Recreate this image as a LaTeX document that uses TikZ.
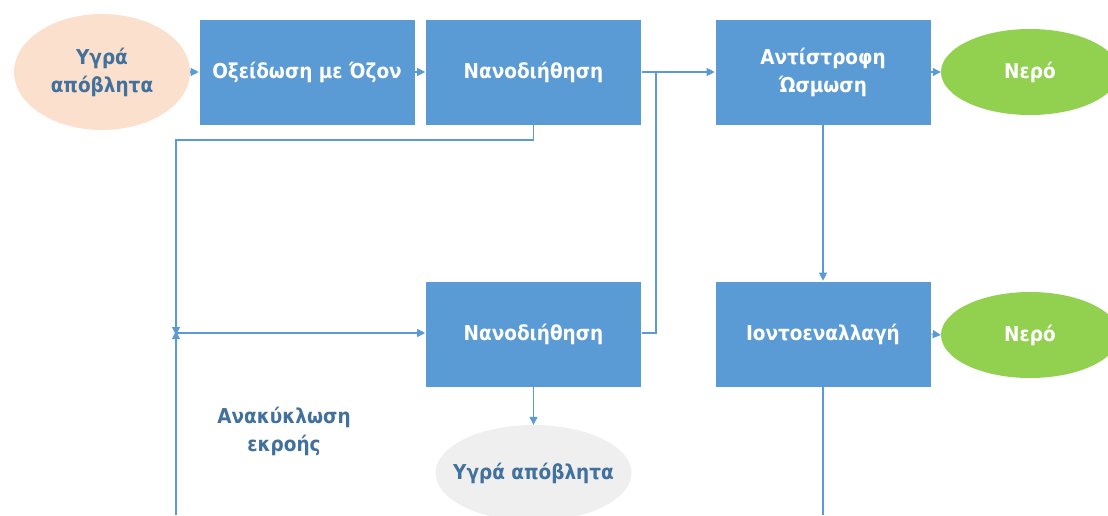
\documentclass[tikz,border=0pt]{standalone}
\usepackage{fontspec}
\setmainfont{DejaVu Sans Condensed}
\usetikzlibrary{shapes.geometric,arrows.meta}
\definecolor{boxblue}{HTML}{5B9BD5}
\definecolor{txtblue}{HTML}{41719C}
\definecolor{peach}{HTML}{FBE0CD}
\definecolor{leaf}{HTML}{92D050}
\definecolor{pale}{HTML}{EFEFEF}
\tikzset{
  bigtext/.style={font=\bfseries\fontsize{20.5}{28}\selectfont},
  procbox/.style={fill=boxblue, draw=white, line width=0.6pt, minimum width=216pt, minimum height=106pt, inner sep=0pt, bigtext, text=white, align=center},
  oval/.style={ellipse, inner sep=0pt, bigtext, align=center},
  conn/.style={draw=boxblue, line width=1.1pt},
  arr/.style={conn, -{Triangle[length=8pt,width=8pt]}},
}
\begin{document}
\begin{tikzpicture}[x=1pt,y=-1pt]
\useasboundingbox (0,0) rectangle (1108,515);
\clip (0,0) rectangle (1108,515);
\node[oval, fill=peach, text=txtblue, minimum width=176pt, minimum height=116pt] (in) at (102,72) {Υγρά\\απόβλητα};
\node[procbox] (ox) at (307,72) {Οξείδωση με Όζον};
\node[procbox] (nf1) at (533.5,72) {Νανοδιήθηση};
\node[procbox] (ro) at (823,72) {Αντίστροφη\\Ώσμωση};
\node[oval, fill=leaf, text=white, minimum width=178pt, minimum height=86pt] (w1) at (1030,72) {Νερό};
\node[procbox] (nf2) at (533.5,334) {Νανοδιήθηση};
\node[procbox] (ix) at (823,334) {Ιοντοεναλλαγή};
\node[oval, fill=leaf, text=white, minimum width=178pt, minimum height=86pt] (w2) at (1030,335) {Νερό};
\node[oval, fill=pale, text=txtblue, inner xsep=-14pt, minimum width=196pt, minimum height=96pt] (waste) at (533.5,473) {Υγρά απόβλητα};
\node[bigtext, text=txtblue, align=center] (rec) at (284,431) {Ανακύκλωση\\εκροής};
\coordinate (j) at (176,333);
\coordinate (jt) at (176,140);
\coordinate (jb) at (176,515);
\coordinate (m) at (656,72);
\coordinate (ixb) at (823,515);

\draw[arr] (in.east) -- (ox.west);
\draw[arr] (ox.east) -- (nf1.west);
\draw[arr] (nf1.east) -- (ro.west);
\draw[arr] (ro.east) -- (w1.west);
\draw[conn] (nf2.east |- 0,333) -| (m);
\draw[arr] (nf1.south) |- (jt) -- ([yshift=-2pt]j);
\draw[arr] (jb) -- ([yshift=2pt]j);
\draw[arr] (j) -- (nf2.west |- j);
\draw[arr] (ro.south) -- (ix.north);
\draw[arr] (ix.east) -- (w2.west);
\draw[arr] (nf2.south) -- (waste.north);
\draw[conn] (ix.south) -- (ixb);
\end{tikzpicture}
\end{document}
